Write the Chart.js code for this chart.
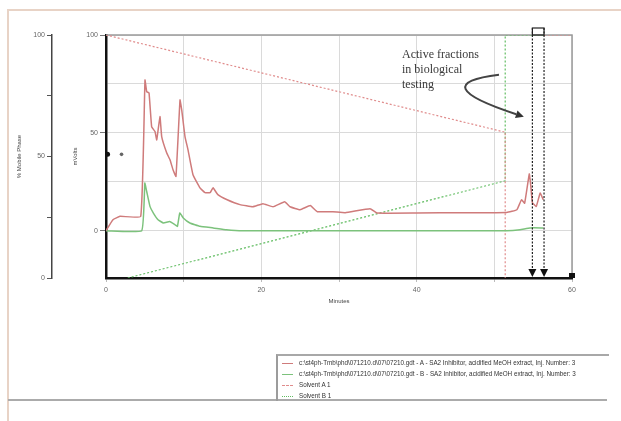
<!DOCTYPE html>
<html lang="en">

<head>
    <meta charset="UTF-8">
    <script src="https://cdn.jsdelivr.net/npm/chart.js@4.4.1/dist/chart.umd.min.js"></script>
    <title>Chromatogram</title>
    <style>
        body { margin: 0; background: #fff; }
        #wrap { position: relative; width: 621px; height: 421px; overflow: hidden; font-family: 'Liberation Sans', Arial, sans-serif; }
        #chart { position: absolute; left: 0; top: 0; }
        .line { position: absolute; }
        #note { position: absolute; left: 402px; top: 47px; font: 12px/15px 'Liberation Serif', 'DejaVu Serif', serif; color: #3a3a3a; }
        #legend { position: absolute; left: 276px; top: 354px; width: 331px; height: 45px; border-top: 2px solid #a8a8a8; border-left: 2px solid #9c9c9c; }
        .row { position: absolute; left: 4px; height: 10px; font-size: 6.3px; line-height: 10px; color: #333; white-space: nowrap; }
        .row span.swatch { position: absolute; left: 0; top: 5px; width: 11px; border-top: 1.5px solid; }
        .row span.label { position: absolute; left: 17px; top: 0; }
    </style>
</head>

<body>
    <div id="wrap">
        <div class="line" style="left:8px;top:9px;width:613px;height:2px;background:#e8d3c6"></div>
        <div class="line" style="left:7px;top:9px;width:2px;height:412px;background:#e8d3c6"></div>
        <div class="line" style="left:8px;top:399px;width:599px;height:2px;background:#ababab"></div>
        <canvas id="chart" width="621" height="421"></canvas>
        <div id="note">Active fractions<br>in biological<br>testing</div>
        <div id="legend"></div>
    </div>

    <script>
        // channel A (red) and channel B (green), minutes / mVolts
        const timeA = [0, 0.9, 1.8, 4.47, 5.02, 5.24, 5.54, 5.88, 6.31, 6.53, 6.95, 7.17, 7.81, 8.24, 8.63, 9.01,
            9.53, 9.75, 10.17, 10.56, 11.2, 12.1, 12.75, 13.4, 13.78, 14.4, 15.6, 17.25, 18.9, 20.2, 21.5, 23.0,
            23.7, 25.0, 26.3, 27.2, 29.2, 30.8, 34.0, 34.9, 40, 46, 51.6, 52.9, 53.5, 53.9, 54.5, 54.7, 54.9,
            55.4, 55.9, 56.3];
        const signalA = [0, 5.6, 7.3, 7.3, 77, 71, 70.4, 53, 50.7, 46.4, 58.3, 48.1, 39.8, 36.2, 31.1, 27.7,
            66.8, 61.7, 48.1, 41.3, 28.6, 21.9, 19.4, 19.4, 21.9, 18.4, 15.8, 13.3, 12.2, 13.8, 12.2, 14.8,
            12.2, 10.7, 12.8, 9.7, 9.7, 9.2, 11.2, 9, 9, 9.2, 9.3, 10.7, 15.8, 14, 29, 22.6, 14.3,
            12.4, 19.2, 15.8];
        const timeB = [0, 4.6, 5.0, 5.24, 5.66, 6.1, 6.7, 7.4, 8.2, 8.9, 9.2, 9.5, 9.95, 10.8, 12.1, 13.8, 15.5,
            17.6, 30, 45, 51.6, 53.3, 54.6, 56.3];
        const signalB = [0, 0, 24.3, 20, 12.4, 9, 5.6, 3.9, 4.7, 3, 2.2, 9, 6.5, 3.9, 2.2, 1.4, 0.5,
            0, 0, 0, 0, 0.5, 1.4, 1.4];

        // gradient program, % mobile phase (null = pen up)
        const solventATime = [0, 51.4, 51.4, 54, 56.4, 60];
        const solventA = [100, 60, 0, null, 100, 100];
        const solventBTime = [2.8, 51.4, 51.4, 56.4];
        const solventB = [0, 40, 100, 100];

        // injection artefacts near the mV axis
        const markTime = [0.2, 2.0];
        const markValue = [39, 39];

        const fractionTimes = [54.9, 56.4];

        const xGrid = [0, 10, 20, 30, 40, 50, 60];
        const xLabels = [0, 20, 40, 60];
        const mvGrid = [0, 25, 50, 75, 100];
        const pctGrid = [0, 25, 50, 75, 100];
        const axisLabels = [0, 50, 100];

        const legendNames = [
            'c:\\st4ph-Tmb\\phd\\071210.d\\07\\07210.gdt - A - SA2 Inhibitor, acidified MeOH extract, Inj. Number: 3',
            'c:\\st4ph-Tmb\\phd\\071210.d\\07\\07210.gdt - B - SA2 Inhibitor, acidified MeOH extract, Inj. Number: 3',
            'Solvent A 1',
            'Solvent B 1'
        ];

        const red = '#cf7b7b';
        const green = '#7cc27c';

        const pairs = (xs, ys) => xs.map((x, i) => ({ x: x, y: ys[i] }));
        const tickFont = { family: 'Liberation Sans', size: 7 };

        const decor = {
            id: 'decor',
            beforeDatasetsDraw(chart) {
                const { ctx, chartArea: a } = chart;
                ctx.save();
                ctx.strokeStyle = '#9a9a9a';
                ctx.lineWidth = 1.5;
                ctx.beginPath();
                ctx.moveTo(a.left, a.top);
                ctx.lineTo(a.right, a.top);
                ctx.lineTo(a.right, a.bottom);
                ctx.stroke();
                ctx.restore();
            },
            afterDatasetsDraw(chart) {
                const { ctx, chartArea: a, scales } = chart;
                const xs = fractionTimes.map(t => scales.x.getPixelForValue(t));
                ctx.save();
                ctx.strokeStyle = '#222';
                ctx.lineWidth = 1.2;
                ctx.strokeRect(xs[0], a.top - 7, xs[1] - xs[0], 7);
                ctx.setLineDash([2, 1.5]);
                xs.forEach(x => {
                    ctx.beginPath();
                    ctx.moveTo(x, a.top - 7);
                    ctx.lineTo(x, a.bottom - 8);
                    ctx.stroke();
                });
                ctx.setLineDash([]);
                ctx.fillStyle = '#111';
                xs.forEach(x => {
                    ctx.beginPath();
                    ctx.moveTo(x - 4, a.bottom - 9);
                    ctx.lineTo(x + 4, a.bottom - 9);
                    ctx.lineTo(x, a.bottom - 1);
                    ctx.closePath();
                    ctx.fill();
                });
                // end-of-run marker
                ctx.fillRect(a.right - 3, a.bottom - 5, 6, 5);

                // curved pointer from the note to the fractions
                const px = t => scales.x.getPixelForValue(t);
                const py = v => scales.mv.getPixelForValue(v);
                const p0 = [px(50.6), py(79.7)];
                const c = [px(40.9), py(75)];
                const p1 = [px(53.8), py(58.2)];
                const dx = p1[0] - c[0], dy = p1[1] - c[1];
                const len = Math.hypot(dx, dy), ux = dx / len, uy = dy / len;
                const base = [p1[0] - ux * 8, p1[1] - uy * 8];
                ctx.strokeStyle = '#444';
                ctx.lineWidth = 2;
                ctx.beginPath();
                ctx.moveTo(p0[0], p0[1]);
                ctx.quadraticCurveTo(c[0], c[1], base[0], base[1]);
                ctx.stroke();
                ctx.fillStyle = '#333';
                ctx.beginPath();
                ctx.moveTo(p1[0], p1[1]);
                ctx.lineTo(base[0] - uy * 4, base[1] + ux * 4);
                ctx.lineTo(base[0] + uy * 4, base[1] - ux * 4);
                ctx.closePath();
                ctx.fill();
                ctx.restore();
            }
        };

        const ctx = document.getElementById('chart').getContext('2d');
        new Chart(ctx, {
            type: 'line',
            data: {
                datasets: [{
                    label: legendNames[0],
                    data: pairs(timeA, signalA),
                    yAxisID: 'mv',
                    borderColor: red,
                    borderWidth: 1.5,
                    pointRadius: 0,
                    tension: 0.1
                }, {
                    label: legendNames[1],
                    data: pairs(timeB, signalB),
                    yAxisID: 'mv',
                    borderColor: green,
                    borderWidth: 1.5,
                    pointRadius: 0,
                    tension: 0.1
                }, {
                    label: legendNames[2],
                    data: pairs(solventATime, solventA),
                    yAxisID: 'pct',
                    borderColor: '#e08c8c',
                    borderWidth: 1.2,
                    borderDash: [2, 2],
                    pointRadius: 0,
                    spanGaps: false
                }, {
                    label: legendNames[3],
                    data: pairs(solventBTime, solventB),
                    yAxisID: 'pct',
                    borderColor: '#62bd62',
                    borderWidth: 1.2,
                    borderDash: [2, 2],
                    pointRadius: 0
                }, {
                    label: 'marks',
                    data: pairs(markTime, markValue),
                    yAxisID: 'mv',
                    showLine: false,
                    pointRadius: [2.5, 1.8],
                    pointBackgroundColor: ['#111', '#666'],
                    pointBorderWidth: 0,
                    clip: false
                }]
            },
            options: {
                responsive: false,
                animation: false,
                layout: { padding: { left: 12, right: 49, top: 35, bottom: 113 } },
                plugins: { legend: { display: false }, tooltip: { enabled: false } },
                scales: {
                    x: {
                        type: 'linear',
                        min: 0,
                        max: 60,
                        afterBuildTicks: s => { s.ticks = xGrid.map(v => ({ value: v })); },
                        afterFit: s => { s.height = 30; },
                        ticks: {
                            autoSkip: false,
                            maxRotation: 0,
                            padding: 4,
                            font: tickFont,
                            color: '#666',
                            callback: v => xLabels.includes(v) ? String(v) : ''
                        },
                        grid: { color: '#dadada', lineWidth: 1, tickLength: 4, tickColor: '#bbb' },
                        border: { color: '#111', width: 2.5 },
                        title: {
                            display: true, text: 'Minutes', color: '#444',
                            font: { family: 'Liberation Sans', size: 6 }, padding: { top: 0, bottom: 3 }
                        }
                    },
                    mv: {
                        type: 'linear',
                        position: 'left',
                        weight: 0,
                        min: -24.2,
                        max: 100,
                        afterBuildTicks: s => { s.ticks = mvGrid.map(v => ({ value: v })); },
                        afterFit: s => { s.width = 54; },
                        ticks: {
                            padding: 2,
                            font: tickFont,
                            color: '#666',
                            callback: v => axisLabels.includes(v) ? String(v) : ''
                        },
                        grid: {
                            color: '#dadada',
                            lineWidth: 1,
                            tickLength: 6,
                            tickColor: c => axisLabels.includes(c.tick && c.tick.value) ? '#777' : 'rgba(0,0,0,0)'
                        },
                        border: { color: '#111', width: 2.5 },
                        title: {
                            display: true, text: 'mVolts', color: '#444',
                            font: { family: 'Liberation Sans', size: 6 }, padding: { top: 20, bottom: 0 }
                        }
                    },
                    pct: {
                        type: 'linear',
                        position: 'left',
                        weight: 10,
                        min: 0,
                        max: 100,
                        afterBuildTicks: s => { s.ticks = pctGrid.map(v => ({ value: v })); },
                        afterFit: s => { s.width = 40; },
                        ticks: {
                            padding: 2,
                            font: tickFont,
                            color: '#666',
                            callback: v => axisLabels.includes(v) ? String(v) : ''
                        },
                        grid: { drawOnChartArea: false, tickLength: 5, tickColor: '#555', lineWidth: 1 },
                        border: { color: '#444', width: 1.5 },
                        title: {
                            display: true, text: '% Mobile Phase', color: '#444',
                            font: { family: 'Liberation Sans', size: 6 }, padding: { top: 4, bottom: 0 }
                        }
                    }
                }
            },
            plugins: [decor]
        });

        // legend box under the chart
        const swatches = [
            'solid ' + red,
            'solid ' + green,
            'dashed #e08c8c',
            'dotted #62bd62'
        ];
        const legend = document.getElementById('legend');
        legendNames.forEach((name, i) => {
            const row = document.createElement('div');
            row.className = 'row';
            row.style.top = (2 + i * 11) + 'px';
            const sw = document.createElement('span');
            sw.className = 'swatch';
            sw.style.borderTop = '1.5px ' + swatches[i];
            const label = document.createElement('span');
            label.className = 'label';
            label.textContent = name;
            row.appendChild(sw);
            row.appendChild(label);
            legend.appendChild(row);
        });
    </script>
</body>

</html>
